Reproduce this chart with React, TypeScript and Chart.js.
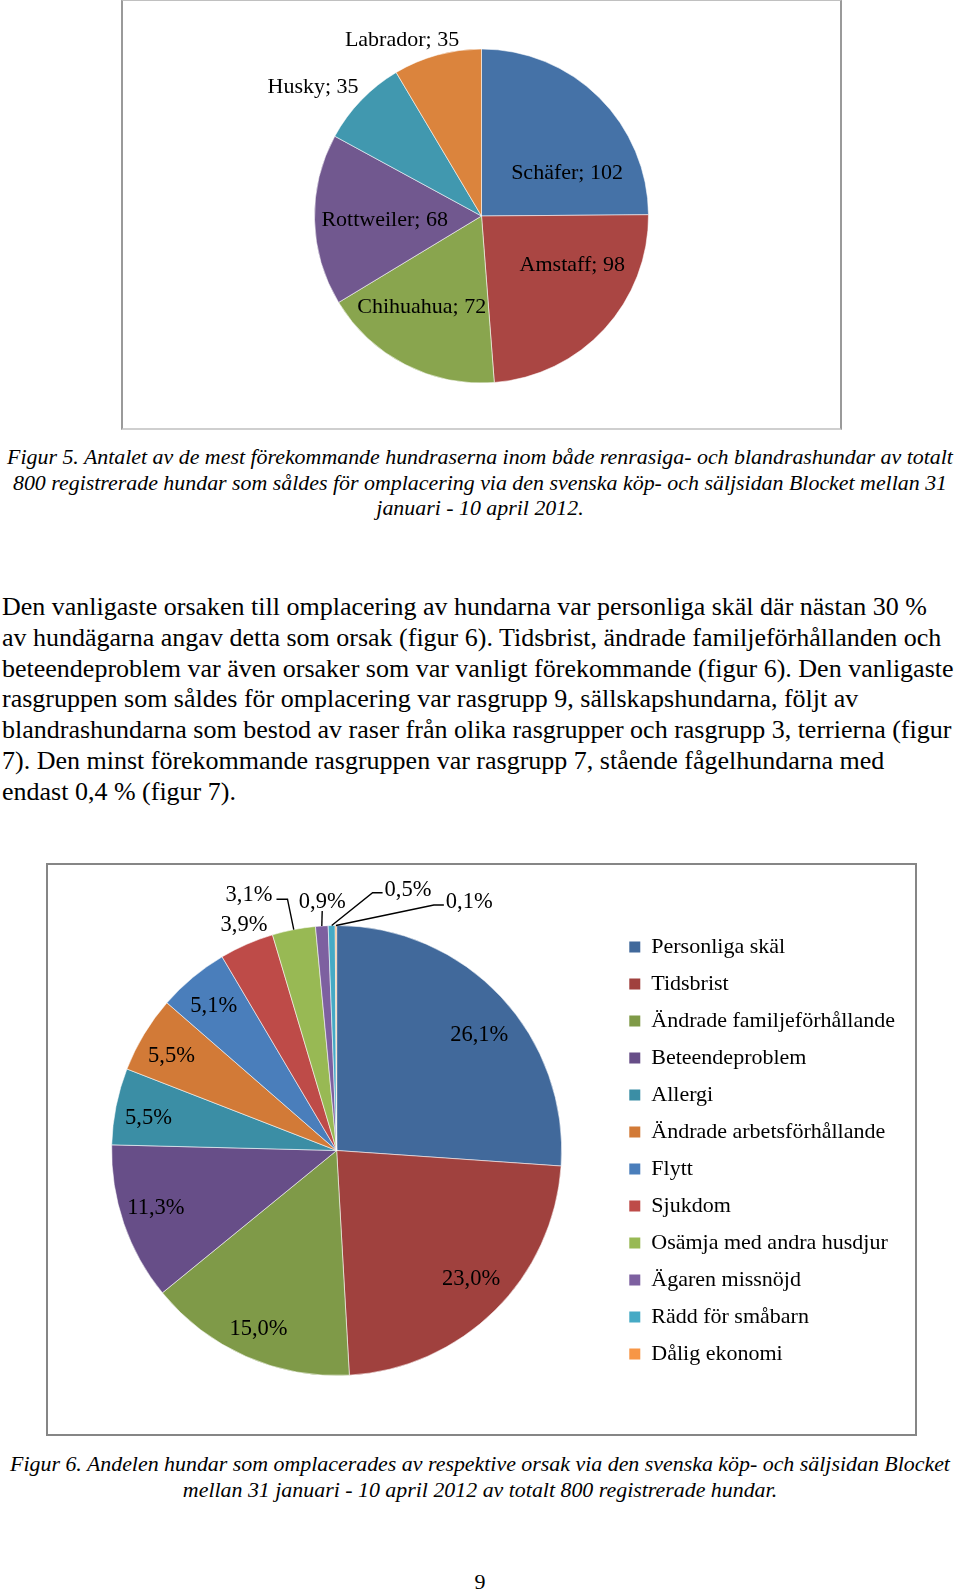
import React, { useEffect, useRef } from "react";
import { Chart, registerables } from "chart.js";

Chart.register(...registerables);

// ---------- Figur 5 data ----------
const breedLabels = ["Schäfer", "Amstaff", "Chihuahua", "Rottweiler", "Husky", "Labrador"];
const breedCounts = [102, 98, 72, 68, 35, 35];
const breedColors = ["#4572A7", "#AA4643", "#89A54E", "#71588F", "#4198AF", "#DB843D"];
// label placement: [radius factor, angle in degrees clockwise from top]
const breedLabelPlacement = [
  [0.58, 62],
  [0.61, 117],
  [0.64, 214],
  [0.58, 269],
  [1.28, 308],
  [1.17, 336],
];

// ---------- Figur 6 data ----------
const reasonLabels = [
  "Personliga skäl",
  "Tidsbrist",
  "Ändrade familjeförhållande",
  "Beteendeproblem",
  "Allergi",
  "Ändrade arbetsförhållande",
  "Flytt",
  "Sjukdom",
  "Osämja med andra husdjur",
  "Ägaren missnöjd",
  "Rädd för småbarn",
  "Dålig ekonomi",
];
const reasonShares = [26.1, 23.0, 15.0, 11.3, 5.5, 5.5, 5.1, 3.9, 3.1, 0.9, 0.5, 0.1];
const reasonColors = [
  "#41699B",
  "#A0413E",
  "#7F9A48",
  "#674E88",
  "#3B8EA5",
  "#D27A37",
  "#4A7EBB",
  "#BE4B48",
  "#98B954",
  "#7D60A0",
  "#46AAC5",
  "#F79646",
];
const reasonLabelPlacement = [
  [0.82, 50.6],
  [0.82, 133.2],
  [0.86, 203.8],
  [0.84, 253],
  [0.85, 280.4],
  [0.85, 300.3],
  [0.85, 320],
  [1.09, 337.8],
  [1.208, 341.2],
  [1.115, 356.7],
  [1.21, 15.2],
  [1.26, 27.9],
];
const reasonLeaders: (string | null)[] = [null, null, null, null, null, null, null, null, "right", "down", "left", "left"];

const SERIF = '"Liberation Serif", "Times New Roman", serif';

const sliceLabelPlugin = {
  id: "sliceLabels",
  afterDatasetsDraw(chart: any, _args: any, opts: any) {
    if (!opts || !opts.placement) return;
    const meta = chart.getDatasetMeta(0);
    const ctx = chart.ctx;
    const dy = opts.textShift || 0;
    ctx.save();
    ctx.font = opts.font;
    ctx.fillStyle = "#000";
    ctx.textAlign = "center";
    ctx.textBaseline = "middle";
    meta.data.forEach((arc: any, i: number) => {
      const p = arc.getProps(["x", "y", "outerRadius", "startAngle", "endAngle"], true);
      const [rf, deg] = opts.placement[i];
      const a = (deg * Math.PI) / 180;
      const lx = p.x + rf * p.outerRadius * Math.sin(a);
      const ly = p.y - rf * p.outerRadius * Math.cos(a);
      const text = opts.format(i);
      ctx.fillText(text, lx, ly + dy);
      const leader = opts.leaders ? opts.leaders[i] : null;
      if (leader) {
        const mid = (p.startAngle + p.endAngle) / 2;
        const ex = p.x + p.outerRadius * Math.cos(mid);
        const ey = p.y + p.outerRadius * Math.sin(mid);
        const w = ctx.measureText(text).width;
        ctx.beginPath();
        ctx.strokeStyle = "#000";
        ctx.lineWidth = 1.4;
        if (leader === "down") {
          ctx.moveTo(lx, ly + 11);
          ctx.lineTo(ex, ey);
        } else if (leader === "right") {
          const sx = lx + w / 2 + 4;
          ctx.moveTo(sx, ly + 6);
          ctx.lineTo(sx + 11, ly + 6);
          ctx.lineTo(ex, ey);
        } else {
          const sx = lx - w / 2 - 2;
          ctx.moveTo(sx, ly + 5);
          ctx.lineTo(sx - 10, ly + 5);
          ctx.lineTo(ex, ey);
        }
        ctx.stroke();
      }
    });
    ctx.restore();
  },
};

function BreedPie() {
  const ref = useRef<HTMLCanvasElement>(null);
  useEffect(() => {
    if (!ref.current) return;
    const chart = new Chart(ref.current, {
      type: "pie",
      data: {
        labels: breedLabels,
        datasets: [
          {
            data: breedCounts,
            backgroundColor: breedColors,
            borderColor: "rgba(255,255,255,0.55)",
            borderWidth: 1,
            radius: 167,
          } as any,
        ],
      },
      options: {
        animation: false,
        responsive: false,
        events: [],
        layout: { padding: { top: 3, left: 0, right: 0, bottom: 0 } },
        plugins: {
          legend: { display: false },
          tooltip: { enabled: false },
          sliceLabels: {
            placement: breedLabelPlacement,
            font: `22px ${SERIF}`,
            textShift: 2.5,
            format: (i: number) => `${breedLabels[i]}; ${breedCounts[i]}`,
          },
        } as any,
      },
      plugins: [sliceLabelPlugin],
    });
    return () => chart.destroy();
  }, []);
  return (
    <canvas
      ref={ref}
      width={719}
      height={429}
      style={{ position: "absolute", left: 122, top: 0, width: 719, height: 429 }}
    />
  );
}

function ReasonPie() {
  const ref = useRef<HTMLCanvasElement>(null);
  useEffect(() => {
    if (!ref.current) return;
    const chart = new Chart(ref.current, {
      type: "pie",
      data: {
        labels: reasonLabels,
        datasets: [
          {
            data: reasonShares,
            backgroundColor: reasonColors,
            borderColor: "rgba(255,255,255,0.55)",
            borderWidth: 1,
            radius: 225,
          } as any,
        ],
      },
      options: {
        animation: false,
        responsive: false,
        events: [],
        layout: { padding: { top: 2, left: 12, right: 11, bottom: 0 } },
        plugins: {
          legend: {
            position: "right",
            align: "center",
            labels: {
              boxWidth: 11,
              boxHeight: 11,
              padding: 15,
              color: "#000",
              font: { family: SERIF, size: 22 },
              generateLabels: (c: any) =>
                (Chart as any).overrides.pie.plugins.legend.labels
                  .generateLabels(c)
                  .map((l: any) => ({ ...l, lineWidth: 0, strokeStyle: "transparent" })),
            },
          },
          tooltip: { enabled: false },
          sliceLabels: {
            placement: reasonLabelPlacement,
            leaders: reasonLeaders,
            font: `22.5px ${SERIF}`,
            textShift: 2,
            format: (i: number) => `${reasonShares[i].toFixed(1).replace(".", ",")}%`,
          },
        } as any,
      },
      plugins: [sliceLabelPlugin],
    });
    return () => chart.destroy();
  }, []);
  return (
    <canvas
      ref={ref}
      width={869}
      height={571}
      style={{ position: "absolute", left: 47, top: 864, width: 869, height: 571 }}
    />
  );
}

const caption5 = [
  "Figur 5. Antalet av de mest förekommande hundraserna inom både renrasiga- och blandrashundar av totalt",
  "800 registrerade hundar som såldes för omplacering via den svenska köp- och säljsidan Blocket mellan 31",
  "januari - 10 april 2012.",
];
const caption6 = [
  "Figur 6. Andelen hundar som omplacerades av respektive orsak via den svenska köp- och säljsidan Blocket",
  "mellan 31 januari - 10 april 2012 av totalt 800 registrerade hundar.",
];
const bodyLines = [
  "Den vanligaste orsaken till omplacering av hundarna var personliga skäl där nästan 30 %",
  "av hundägarna angav detta som orsak (figur 6). Tidsbrist, ändrade familjeförhållanden och",
  "beteendeproblem var även orsaker som var vanligt förekommande (figur 6). Den vanligaste",
  "rasgruppen som såldes för omplacering var rasgrupp 9, sällskapshundarna, följt av",
  "blandrashundarna som bestod av raser från olika rasgrupper och rasgrupp 3, terrierna (figur",
  "7). Den minst förekommande rasgruppen var rasgrupp 7, stående fågelhundarna med",
  "endast 0,4 % (figur 7).",
];

export default function App() {
  const captionStyle: React.CSSProperties = {
    position: "absolute",
    left: 0,
    width: 960,
    textAlign: "center",
    fontFamily: SERIF,
    fontStyle: "italic",
    fontSize: 21.9,
    lineHeight: "25.5px",
    whiteSpace: "pre",
    color: "#000",
  };
  return (
    <div
      style={{
        position: "absolute",
        left: 0,
        top: 0,
        width: 960,
        height: 1593,
        background: "#fff",
        overflow: "hidden",
      }}
    >
      <BreedPie />
      <div
        style={{
          position: "absolute",
          left: 121,
          top: 0,
          width: 721,
          height: 430,
          boxSizing: "border-box",
          borderLeft: "2px solid #9a9a9a",
          borderRight: "2px solid #9a9a9a",
          borderTop: "1px solid #c0c0c0",
          borderBottom: "2px solid #cfcfcf",
        }}
      />
      <div style={{ ...captionStyle, top: 444 }}>
        {caption5.map((t, i) => (
          <div key={i}>{t}</div>
        ))}
      </div>
      <div
        style={{
          position: "absolute",
          left: 2,
          top: 592,
          fontFamily: SERIF,
          fontSize: 26,
          lineHeight: "30.75px",
          whiteSpace: "pre",
          color: "#000",
        }}
      >
        {bodyLines.map((t, i) => (
          <div key={i}>{t}</div>
        ))}
      </div>
      <ReasonPie />
      <div
        style={{
          position: "absolute",
          left: 46,
          top: 863,
          width: 871,
          height: 573,
          boxSizing: "border-box",
          border: "2px solid #868686",
        }}
      />
      <div style={{ ...captionStyle, top: 1451 }}>
        {caption6.map((t, i) => (
          <div key={i}>{t}</div>
        ))}
      </div>
      <div
        style={{
          position: "absolute",
          left: 0,
          width: 960,
          top: 1568,
          textAlign: "center",
          fontFamily: SERIF,
          fontSize: 22,
          lineHeight: "28px",
          color: "#000",
        }}
      >
        9
      </div>
    </div>
  );
}
